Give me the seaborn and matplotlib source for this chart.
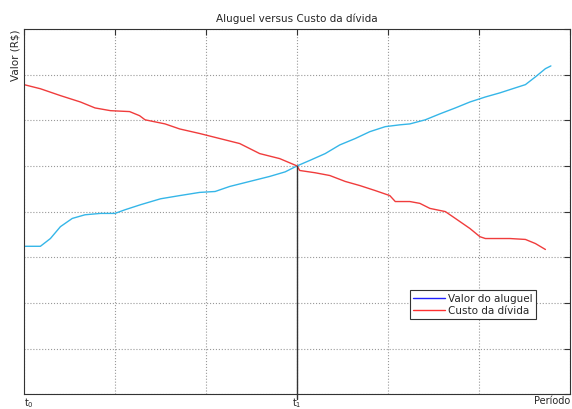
import numpy as np
import pandas as pd
import matplotlib.pyplot as plt
from matplotlib.lines import Line2D
import seaborn as sns

# valores
aluguel_x = [0, 0.18, 0.29, 0.40, 0.53, 0.67, 0.84, 1.0, 1.11, 1.28, 1.50, 1.71, 1.93, 2.10, 2.26,
             2.48, 2.70, 2.87, 3.0, 3.14, 3.31, 3.47, 3.64, 3.80, 3.97, 4.13, 4.24, 4.41, 4.57,
             4.74, 4.90, 5.07, 5.23, 5.40, 5.51, 5.62, 5.73, 5.79]
aluguel_y = [3.24, 3.24, 3.41, 3.67, 3.85, 3.93, 3.96, 3.96, 4.04, 4.15, 4.28, 4.35, 4.42, 4.44, 4.55,
             4.66, 4.77, 4.87, 5.0, 5.12, 5.27, 5.46, 5.60, 5.75, 5.86, 5.90, 5.92, 6.01, 6.14,
             6.27, 6.40, 6.51, 6.60, 6.71, 6.78, 6.95, 7.13, 7.19]

divida_x = [0, 0.18, 0.40, 0.62, 0.78, 0.95, 1.16, 1.27, 1.33, 1.55, 1.71, 1.93, 2.15, 2.37, 2.59,
            2.81, 3.0, 3.03, 3.20, 3.36, 3.53, 3.69, 3.86, 4.02, 4.08, 4.24, 4.35, 4.46, 4.63,
            4.74, 4.90, 5.01, 5.07, 5.34, 5.51, 5.62, 5.73]
divida_y = [6.78, 6.69, 6.54, 6.40, 6.27, 6.21, 6.19, 6.10, 6.01, 5.92, 5.81, 5.71, 5.60, 5.49, 5.27,
            5.16, 5.0, 4.90, 4.85, 4.79, 4.66, 4.57, 4.46, 4.35, 4.22, 4.22, 4.18, 4.07, 4.0,
            3.85, 3.63, 3.45, 3.41, 3.41, 3.39, 3.30, 3.17]

xtick_pos = [0, 1, 2, 3, 4, 5, 6]
xtick_labels = ['t$_0$', '', '', 't$_1$', '', '', 'Período']

df_a = pd.DataFrame({'x': aluguel_x, 'y': aluguel_y})
df_d = pd.DataFrame({'x': divida_x, 'y': divida_y})

sns.set_style("white")
plt.rcParams['font.family'] = ['DejaVu Sans']

fig = plt.figure(figsize=(5.72, 4.10), dpi=100)
ax = fig.add_axes([0.042, 0.036, 0.9545, 0.891])

sns.lineplot(data=df_a, x='x', y='y', sort=False, color='#35b6e8', lw=1, ax=ax)
sns.lineplot(data=df_d, x='x', y='y', sort=False, color='#f03c3c', lw=1, ax=ax)
ax.plot([3, 3], [-0.1, 5.0], color='#333333', lw=1, clip_on=False)

ax.set_xlim(0, 6)
ax.set_ylim(0, 8)
ax.set_xticks(xtick_pos)
ax.set_xticklabels(xtick_labels, fontsize=7)
for lbl, ha in zip(ax.get_xticklabels(), ['left', 'center', 'center', 'center', 'center', 'center', 'right']):
    lbl.set_ha(ha)
ax.set_yticks(range(0, 9))
ax.set_yticklabels([])
ax.tick_params(direction='in', length=4, width=0.8, color='#333333', top=True, right=True, pad=0.5)
ax.grid(True, linestyle=':', color='#999999', lw=0.8)
for s in ax.spines.values():
    s.set_color('#333333')
    s.set_linewidth(0.8)

ax.set_xlabel('')
ax.set_ylabel('Valor (R\\$)', fontsize=7.5, loc='top', labelpad=2)
ax.set_title('Aluguel versus Custo da dívida', fontsize=7.5, pad=6)

handles = [Line2D([], [], color='#2020ff', lw=1), Line2D([], [], color='#ff3030', lw=1)]
leg = ax.legend(handles, ['Valor do aluguel', 'Custo da dívida'], loc='lower right',
                bbox_to_anchor=(0.937, 0.207), fontsize=7.5, fancybox=False, framealpha=1,
                edgecolor='#333333', handlelength=3.0, handletextpad=0.3, borderpad=0.3,
                labelspacing=0.2, borderaxespad=0)
leg.get_frame().set_linewidth(0.8)

plt.savefig('out.png', dpi=100)
